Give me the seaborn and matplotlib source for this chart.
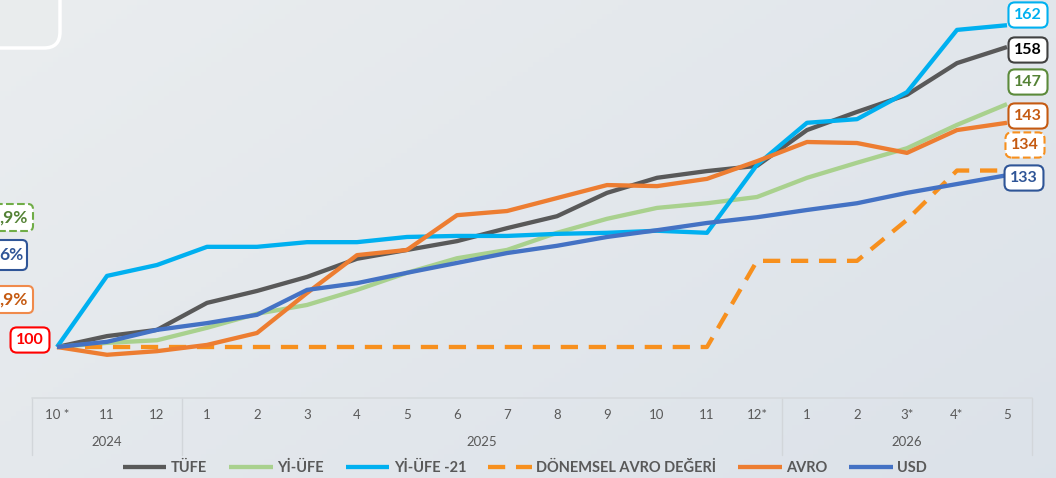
import numpy as np
import pandas as pd
import seaborn as sns
import matplotlib.pyplot as plt
import matplotlib.transforms as mtransforms
from matplotlib.patches import FancyBboxPatch

# kategoriler (ay / yil)
months = ["10 *", "11", "12", "1", "2", "3", "4", "5", "6", "7",
          "8", "9", "10", "11", "12*", "1", "2", "3*", "4*", "5"]
years = ["2024", "2025", "2026"]
year_spans = [(0, 2), (3, 14), (15, 19)]

# seriler (endeks, 10/2024 = 100)
tufe = [100, 102.1, 103.3, 108.5, 110.8, 113.5, 117.0, 118.7, 120.4, 122.9,
        125.2, 129.7, 132.6, 133.9, 134.9, 141.8, 145.3, 148.6, 154.7, 157.8]
yi_ufe = [100, 100.8, 101.3, 103.7, 106.4, 108.1, 111.0, 114.3, 117.1, 118.7,
          122.0, 124.7, 126.8, 127.7, 128.9, 132.6, 135.5, 138.3, 142.8, 146.8]
yi_ufe_21 = [100, 113.7, 115.8, 119.3, 119.3, 120.2, 120.2, 121.2, 121.4, 121.4,
             121.8, 122.0, 122.4, 122.0, 135.1, 143.2, 143.9, 149.1, 161.1, 162.0]
donemsel_avro = [100, 100, 100, 100, 100, 100, 100, 100, 100, 100,
                 100, 100, 100, 100, 116.6, 116.6, 116.6, 124.5, 134.0, 134.0]
avro = [100, 98.5, 99.2, 100.4, 102.7, 110.4, 117.7, 118.7, 125.4, 126.2,
        128.7, 131.2, 131.0, 132.4, 135.8, 139.5, 139.3, 137.4, 141.8, 143.2]
usd = [100, 101.0, 103.3, 104.6, 106.2, 111.0, 112.3, 114.3, 116.2, 118.1,
       119.5, 121.2, 122.5, 123.9, 125.0, 126.4, 127.7, 129.7, 131.4, 133.1]

series = [
    ("TÜFE", tufe, "#595959", "-"),
    ("Yİ-ÜFE", yi_ufe, "#a9d18e", "-"),
    ("Yİ-ÜFE -21", yi_ufe_21, "#00b0f0", "-"),
    ("DÖNEMSEL AVRO DEĞERİ", donemsel_avro, "#f7901e", (0, (4, 2.5))),
    ("AVRO", avro, "#ed7d31", "-"),
    ("USD", usd, "#4472c4", "-"),
]

sns.set_theme(style="white")
plt.rcParams["font.family"] = ["Lato", "DejaVu Sans"]

W, H = 1056, 478
fig = plt.figure(figsize=(W / 100, H / 100), dpi=100)

# arka plan
bg = fig.add_axes([0, 0, 1, 1], zorder=-5)
gx = np.linspace(0, 1, 200)
gy = np.linspace(0, 1, 100)
grad = 0.6 * gx[None, :] + 0.4 * gy[:, None]
c0 = np.array([0.918, 0.929, 0.937])
c1 = np.array([0.862, 0.886, 0.914])
img = c0[None, None, :] * (1 - grad[..., None]) + c1[None, None, :] * grad[..., None]
bg.imshow(img, aspect="auto", extent=[0, 1, 0, 1])
bg.axis("off")

px = 1.0 / 5.19
y_lo = 100 - (398 - 347) * px
y_hi = 100 + 347 * px

ax = fig.add_axes([32 / W, 1 - 398 / H, 1000 / W, 398 / H])
ax.set_facecolor("none")
x = list(range(len(months)))
for name, vals, color, ls in series:
    sns.lineplot(x=x, y=vals, ax=ax, color=color, linewidth=3.1,
                 linestyle=ls, label=name, solid_capstyle="butt")

ax.set_xlim(-0.5, 19.5)
ax.set_ylim(y_lo, y_hi)
ax.set_yticks([])
ax.set_xticks(x)
ax.set_xticklabels(months)
ax.tick_params(axis="x", length=0, pad=8, labelsize=9.5, colors="#595959")
ax.set_xlabel("")
ax.set_ylabel("")
for s in ax.spines.values():
    s.set_visible(False)

trans = mtransforms.blended_transform_factory(ax.transData, ax.transAxes)
for yr, (a, b) in zip(years, year_spans):
    ax.text((a + b) / 2, -44 / 398, yr, transform=trans, ha="center",
            va="center", fontsize=9.5, color="#595959")
for sx in [-0.5, 2.5, 14.5, 19.5]:
    ax.plot([sx, sx], [0, -57 / 398], transform=trans, clip_on=False,
            color="#d2d6da", lw=1)
ax.plot([-0.5, 19.5], [0, 0], transform=trans, clip_on=False,
        color="#d6dadd", lw=1.2)

# lejant
handles, labels = ax.get_legend_handles_labels()
ax.get_legend().remove()
fig.legend(handles, labels, loc="center", bbox_to_anchor=(525 / W, 1 - 468 / H),
           ncol=6, frameon=False, prop={"weight": "bold", "size": 10.5},
           labelcolor="#595959", handlelength=3.0, handletextpad=0.3,
           columnspacing=1.5)

# son deger etiketleri
end_labels = [
    (yi_ufe_21, "#00b0f0", "#00b0f0", "-", 1028, 15),
    (tufe, "#000000", "#404040", "-", 1028, 50),
    (yi_ufe, "#548235", "#5b8a3a", "-", 1028, 82),
    (avro, "#c55a11", "#c55a11", "-", 1028, 116),
    (donemsel_avro, "#c55a11", "#f7901e", "--", 1025, 145),
    (usd, "#2f5597", "#2f5597", "-", 1024, 178),
]
for vals, tc, ec, bls, lx, ly in end_labels:
    fig.text(lx / W, 1 - ly / H, f"{round(vals[-1])}", ha="center", va="center",
             fontsize=11.5, fontweight="bold", color=tc,
             bbox=dict(boxstyle="round,pad=0.35,rounding_size=0.4", fc="white",
                       ec=ec, lw=1.5, ls=bls))

fig.text(30 / W, 1 - 340 / H, f"{round(tufe[0])}", ha="center", va="center",
         fontsize=11.5, fontweight="bold", color="#ff0000",
         bbox=dict(boxstyle="round,pad=0.35,rounding_size=0.4", fc="white",
                   ec="#ff0000", lw=1.5))

# sol tarafta kesilmis kutular
ident = mtransforms.IdentityTransform()
left_boxes = [
    (",9%", "#548235", "#70ad47", "--", 33, 28, 204, 231),
    ("6%", "#2f5597", "#2f5597", "-", 27, 24, 240, 270),
    (",9%", "#c55a11", "#f08a4b", "-", 33, 28, 286, 313),
]
for txt, tc, ec, bls, xr, tx, yt, yb in left_boxes:
    fig.add_artist(FancyBboxPatch((-40, H - yb), 40 + xr, yb - yt,
                                  boxstyle="round,pad=0,rounding_size=5",
                                  fc="white", ec=ec, lw=1.5, ls=bls,
                                  transform=ident))
    fig.text(tx / W, 1 - (yt + yb) / 2 / H, txt, ha="right", va="center",
             fontsize=12.5, fontweight="bold", color=tc)

# sol ustteki kutu
fig.add_artist(FancyBboxPatch((-30, H - 48), 90, 90,
                              boxstyle="round,pad=0,rounding_size=16",
                              fc="#e9eced", ec="white", lw=2.5,
                              transform=ident, zorder=-1))

fig.savefig("out.png", dpi=100)
